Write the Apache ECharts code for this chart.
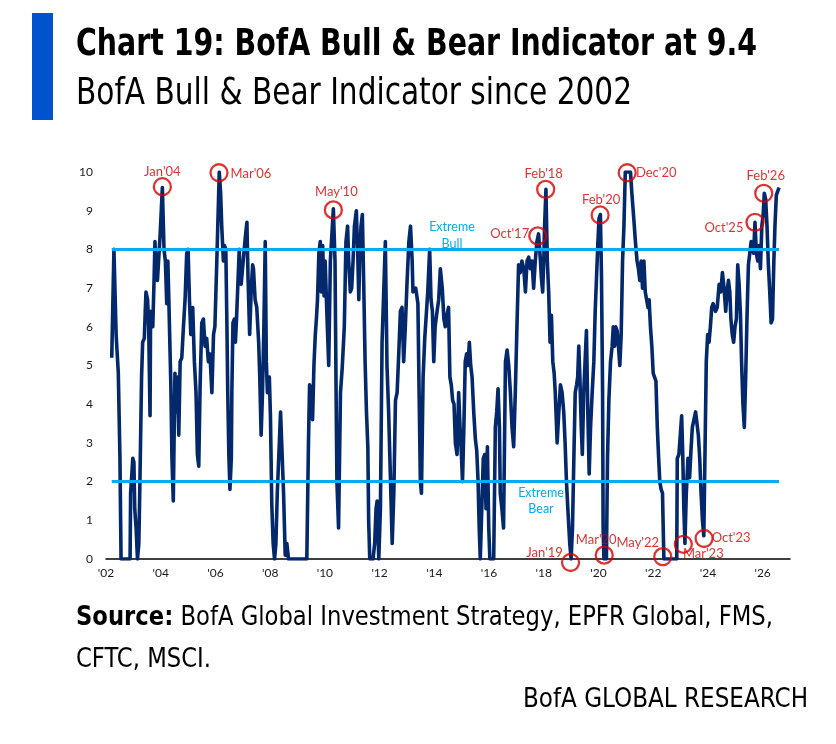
<!DOCTYPE html>
<html>
<head>
<meta charset="utf-8">
<script src="https://cdn.jsdelivr.net/npm/echarts@6/dist/echarts.min.js"></script>
<style>
html,body{margin:0;padding:0;background:#fff;}
#c{width:836px;height:744px;}
</style>
</head>
<body>
<div id="c"></div>
<script>
// ---------------- DATA ----------------
const dates = [
2002.21,2002.29,2002.33,2002.37,2002.45,2002.51,2002.55,2002.88,2002.90,2002.98,
2003.02,2003.05,2003.10,2003.15,2003.20,2003.24,2003.30,2003.34,2003.40,2003.46,
2003.52,2003.56,2003.61,2003.63,2003.71,2003.76,2003.79,2003.83,2003.88,2003.93,
2003.98,2004.02,2004.06,2004.12,2004.17,2004.22,2004.26,2004.30,2004.37,2004.41,
2004.46,2004.52,2004.56,2004.61,2004.66,2004.71,2004.77,2004.83,2004.89,2004.95,
2005.00,2005.05,2005.10,2005.17,2005.23,2005.29,2005.34,2005.39,2005.44,2005.50,
2005.56,2005.62,2005.68,2005.74,2005.80,2005.87,2005.93,2005.98,2006.05,2006.14,
2006.19,2006.23,2006.29,2006.33,2006.38,2006.42,2006.45,2006.49,2006.53,2006.58,
2006.60,2006.64,2006.69,2006.73,2006.77,2006.82,2006.87,2006.90,2006.94,2006.99,
2007.04,2007.09,2007.15,2007.19,2007.25,2007.31,2007.36,2007.39,2007.45,2007.51,
2007.58,2007.62,2007.67,2007.72,2007.77,2007.82,2007.86,2007.90,2007.97,2008.01,
2008.06,2008.11,2008.16,2008.21,2008.26,2008.33,2008.38,2008.43,2008.49,2008.55,
2008.61,2008.67,2009.34,2009.40,2009.44,2009.50,2009.55,2009.60,2009.65,2009.69,
2009.73,2009.78,2009.83,2009.87,2009.92,2009.97,2010.01,2010.08,2010.14,2010.20,
2010.31,2010.37,2010.41,2010.44,2010.50,2010.57,2010.63,2010.66,2010.71,2010.77,
2010.83,2010.87,2010.93,2010.98,2011.03,2011.08,2011.15,2011.20,2011.24,2011.27,
2011.32,2011.37,2011.42,2011.47,2011.52,2011.57,2011.60,2011.64,2011.76,2011.82,
2011.87,2011.91,2011.97,2012.03,2012.09,2012.15,2012.21,2012.27,2012.33,2012.40,
2012.46,2012.52,2012.58,2012.64,2012.70,2012.76,2012.82,2012.88,2012.94,2013.00,
2013.07,2013.13,2013.19,2013.22,2013.27,2013.32,2013.40,2013.44,2013.49,2013.53,
2013.59,2013.65,2013.71,2013.76,2013.83,2013.88,2013.93,2013.98,2014.03,2014.10,
2014.16,2014.22,2014.29,2014.35,2014.40,2014.46,2014.52,2014.57,2014.62,2014.67,
2014.72,2014.77,2014.83,2014.89,2014.94,2014.99,2015.03,2015.08,2015.13,2015.18,
2015.23,2015.28,2015.33,2015.38,2015.44,2015.50,2015.55,2015.60,2015.64,2015.68,
2015.74,2015.79,2015.84,2015.89,2015.94,2015.99,2016.03,2016.17,2016.23,2016.28,
2016.33,2016.38,2016.41,2016.47,2016.53,2016.60,2016.66,2016.72,2016.78,2016.84,
2016.90,2016.96,2017.02,2017.08,2017.14,2017.20,2017.27,2017.33,2017.39,2017.45,
2017.51,2017.57,2017.63,2017.69,2017.75,2017.81,2017.88,2017.91,2017.96,2018.00,
2018.03,2018.08,2018.13,2018.18,2018.23,2018.28,2018.33,2018.38,2018.42,2018.49,
2018.55,2018.61,2018.67,2018.73,2018.78,2018.83,2018.88,2018.95,2019.00,2019.05,
2019.10,2019.15,2019.20,2019.24,2019.28,2019.32,2019.37,2019.41,2019.46,2019.51,
2019.56,2019.61,2019.66,2019.71,2019.77,2019.83,2019.88,2019.93,2019.98,2020.02,
2020.07,2020.11,2020.15,2020.17,2020.20,2020.29,2020.33,2020.38,2020.44,2020.50,
2020.54,2020.59,2020.63,2020.68,2020.73,2020.78,2020.83,2020.88,2020.93,2020.98,
2021.17,2021.22,2021.29,2021.35,2021.41,2021.46,2021.51,2021.56,2021.61,2021.66,
2021.71,2021.76,2021.81,2021.85,2021.90,2021.95,2022.00,2022.05,2022.10,2022.15,
2022.20,2022.24,2022.29,2022.34,2022.39,2022.86,2022.88,2022.94,2022.99,2023.04,
2023.08,2023.12,2023.16,2023.21,2023.27,2023.33,2023.38,2023.43,2023.49,2023.55,
2023.60,2023.65,2023.70,2023.75,2023.80,2023.85,2023.89,2023.94,2023.99,2024.04,
2024.09,2024.14,2024.19,2024.23,2024.28,2024.34,2024.41,2024.47,2024.53,2024.59,
2024.65,2024.70,2024.75,2024.80,2024.84,2024.89,2024.94,2024.99,2025.04,2025.09,
2025.14,2025.19,2025.23,2025.28,2025.33,2025.38,2025.43,2025.48,2025.53,2025.58,
2025.62,2025.67,2025.72,2025.77,2025.82,2025.87,2025.92,2025.97,2026.02,2026.06,
2026.11,2026.16,2026.21,2026.26,2026.31,2026.36,2026.41,2026.45,2026.50,2026.55,
2026.60
];
const values = [
5.2,8.0,6.9,5.8,4.8,2.6,0,0,1.7,2.6,
2.5,1.3,0.8,0,0.4,2.0,4.7,5.6,5.7,6.9,
6.7,6.0,3.7,6.4,6.0,7.3,8.2,7.4,7.2,7.8,
8.4,9.0,9.6,8.0,7.7,6.6,7.7,6.6,4.5,2.6,
1.5,4.8,3.8,4.7,3.2,5.1,5.2,6.0,6.7,7.9,
8.0,6.7,5.8,6.5,5.1,4.3,2.7,2.4,4.5,6.1,
6.2,5.5,5.7,5.1,5.3,4.3,5.8,6.0,7.7,10.0,
9.45,8.6,7.7,8.1,8.0,6.0,4.3,2.7,1.8,2.6,
4.3,6.1,6.2,5.6,6.2,7.1,8.0,7.3,7.1,7.5,
7.9,8.3,8.7,7.3,5.8,7.0,7.6,7.5,6.7,6.5,
5.6,4.7,3.2,4.3,6.0,8.2,5.1,4.3,4.7,3.7,
1.4,0.4,0,0.4,1.7,2.9,3.8,3.8,1.7,0.1,
0.4,0,0,3.0,4.5,4.4,3.6,5.0,5.8,6.2,
6.7,7.9,8.2,6.9,8.1,6.8,7.7,6.2,5.0,7.7,
9.05,7.7,4.3,2.0,0.8,4.3,4.9,5.3,6.0,8.2,
8.6,7.7,6.9,7.0,7.7,8.6,9.0,7.9,6.7,7.7,
8.6,8.9,7.1,5.1,3.8,2.9,1.0,0,0,0.4,
1.3,1.5,0,1.3,5.6,6.9,8.2,5.0,3.8,2.0,
0.4,1.7,4.1,4.3,5.3,6.4,6.5,5.1,6.0,7.1,
8.2,8.6,7.7,6.9,6.9,7.0,6.6,4.5,2.0,1.7,
4.7,5.7,5.7,6.9,8.0,6.7,6.4,5.1,6.0,6.4,
6.7,7.5,7.0,6.2,6.0,6.3,6.5,4.7,4.5,4.1,
4.0,3.0,2.7,4.3,3.4,2.7,2.0,3.4,5.1,5.3,
5.0,5.6,5.0,4.7,3.8,3.1,2.8,2.0,0.8,0,
0,2.6,2.7,1.3,2.9,0.8,0,0,3.4,3.8,
4.4,3.4,1.7,1.3,0.8,5.1,5.4,5.0,4.3,3.4,
2.9,4.3,6.0,7.6,7.4,7.7,7.5,6.9,7.7,7.8,
7.5,7.7,7.0,7.7,8.2,8.4,7.7,7.3,6.9,7.7,
8.6,9.55,7.7,6.9,5.6,6.3,5.1,4.8,4.3,3.0,
3.8,4.5,4.3,3.8,3.0,2.0,1.3,0.4,0,0.8,
2.6,4.3,4.5,4.7,5.5,4.7,3.4,2.7,4.3,5.1,
5.9,3.8,2.2,3.4,4.3,5.1,6.4,7.3,8.2,8.8,
8.9,7.3,4.3,0.8,0,0,2.6,4.1,5.1,5.5,
6.0,5.5,6.0,5.9,5.5,5.0,5.8,7.7,8.6,10.0,
10.0,9.45,8.8,8.2,7.7,7.5,7.2,7.7,7.0,7.7,
6.9,6.7,6.5,6.7,6.0,5.5,4.8,4.7,4.6,3.4,
2.6,2.0,1.8,1.7,0,0,2.6,2.7,3.2,3.7,
2.7,1.3,0.4,1.7,2.6,2.1,2.8,3.4,3.6,3.8,
3.8,3.2,2.6,1.7,1.0,0.6,2.6,5.1,5.8,5.6,
6.0,6.5,6.6,6.5,6.4,6.5,7.1,6.9,7.4,7.0,
6.4,6.9,7.2,6.9,6.2,5.8,5.6,6.0,6.2,7.6,
7.1,6.3,5.1,4.0,3.4,4.7,6.3,7.6,7.9,8.2,
8.2,7.9,8.7,7.9,7.7,8.1,7.5,8.6,8.9,9.45,
9.3,8.6,7.6,6.9,6.1,6.2,7.7,8.6,9.4,9.5,
9.6
];
// Extreme Bull / Extreme Bear thresholds
const bandLevels = [8, 2];
// x-axis ticks
const tickYears = [2002,2004,2006,2008,2010,2012,2014,2016,2018,2020,2022,2024,2026];
const tickLabels = ["'02","'04","'06","'08","'10","'12","'14","'16","'18","'20","'22","'24","'26"];
// circled annotations
const noteNames  = ["Jan'04","Mar'06","May'10","Oct'17","Feb'18","Feb'20","Dec'20","Oct'25","Feb'26","Jan'19","Mar'20","May'22","Mar'23","Oct'23"];
const noteDates  = [2004.06,2006.13,2010.31,2017.78,2018.07,2020.06,2021.05,2025.72,2026.04,2018.98,2020.21,2022.35,2023.10,2023.86];
const noteValues = [9.62,9.98,9.02,8.35,9.55,8.89,9.98,8.70,9.45,-0.09,0.10,0.06,0.38,0.53];

// ---------------- STYLE ----------------
const NAVY = '#03296C';
const SKY = '#00AEEF';
const RED = '#D60000';
const BARBLUE = '#0053CC';
const FAM = "'Liberation Sans Narrow','DejaVu Sans Condensed','Open Sans',sans-serif";
const LBL = "Lato, 'Open Sans', sans-serif";
// label offsets (pixels) relative to each circle
const labelOffset = {
  "Jan'04":[0,-15], "Mar'06":[32,1], "May'10":[3,-18], "Oct'17":[-28,-2],
  "Feb'18":[-2,-16], "Feb'20":[1,-15], "Dec'20":[29,0], "Oct'25":[-31,6],
  "Feb'26":[2,-17], "Jan'19":[-26,-10], "Mar'20":[-8,-15], "May'22":[-25,-14],
  "Mar'23":[20,10], "Oct'23":[27,-1]
};

const mctx = document.createElement('canvas').getContext('2d');
function textW(str, weight, size){ mctx.font = weight + ' ' + size + 'px ' + FAM; return mctx.measureText(str).width; }

const titleTxt = 'Chart 19: BofA Bull & Bear Indicator at 9.4';
const subTxt = 'BofA Bull & Bear Indicator since 2002';
const srcBold = 'Source:';
const srcRest = ' BofA Global Investment Strategy, EPFR Global, FMS,';
const srcLine2 = 'CFTC, MSCI.';
const brandTxt = 'BofA GLOBAL RESEARCH';

const kTitle = 681 / textW(titleTxt, 'bold', 38);
const kSub = 556 / textW(subTxt, 'normal', 38);
const wSB = textW(srcBold, 'bold', 27), wSR = textW(srcRest, 'normal', 27);
const kSrc = 697 / (wSB + wSR);
const kBrand = 285 / textW(brandTxt, 'normal', 27);

function txt(x, y, k, text, size, weight, align, color){
  return {type:'text', x:x, y:y, scaleX:k, scaleY:1, silent:true,
    style:{text:text, fontFamily:FAM, fontSize:size, fontWeight:weight, fill:color||'#000',
      align:align||'left', textAlign:align||'left', verticalAlign:'middle', textVerticalAlign:'middle'}};
}

const chart = echarts.init(document.getElementById('c'), null, {renderer:'canvas'});
const option = {
  animation:false,
  backgroundColor:'#fff',
  grid:{left:106, right:46, top:172, bottom:185},
  xAxis:{type:'value', min:2002, max:2027, interval:2,
    axisLine:{show:true, onZero:false, lineStyle:{color:'#000', width:1.5}},
    axisTick:{show:false}, splitLine:{show:false},
    axisLabel:{margin:8, color:'#1a1a1a', fontSize:12, fontFamily:LBL,
      formatter:function(v){ const i = tickYears.indexOf(Math.round(v*1000)/1000); return i < 0 ? '' : tickLabels[i]; }}},
  yAxis:{type:'value', min:0, max:10, interval:1,
    axisLine:{show:false}, axisTick:{show:false}, splitLine:{show:false},
    axisLabel:{margin:13, color:'#1a1a1a', fontSize:12, fontFamily:LBL}},
  series:[
    {type:'line', name:'BofA Bull & Bear Indicator', z:2, showSymbol:false, symbol:'none',
      data:dates.map((d,i)=>[d, values[i]]),
      lineStyle:{color:NAVY, width:3.6, join:'round'}, itemStyle:{color:NAVY}},
  ].concat(bandLevels.map(l=>({type:'line', z:3, showSymbol:false, symbol:'none', silent:true,
      data:[[dates[0], l],[dates[dates.length-1], l]],
      lineStyle:{color:SKY, width:3}}))).concat([
    {type:'scatter', z:5, clip:false, symbol:'circle', symbolSize:17, silent:true,
      itemStyle:{color:'rgba(255,255,255,0)', borderColor:RED, borderWidth:2.3},
      data:noteNames.map((n,i)=>({name:n, value:[noteDates[i], noteValues[i]],
        label:{show:true, position:'inside', offset:labelOffset[n], formatter:n,
          color:RED, fontSize:13, fontFamily:LBL}}))}
  ]),
  graphic:[
    {type:'rect', shape:{x:32, y:13, width:21, height:107}, style:{fill:BARBLUE}, silent:true},
    txt(76, 45, kTitle, titleTxt, 38, 'bold'),
    txt(76, 94, kSub, subTxt, 38, 'normal'),
    txt(76, 618, kSrc, srcBold, 27, 'bold'),
    txt(76 + kSrc*wSB, 618, kSrc, srcRest, 27, 'normal'),
    txt(76, 660, kSrc, srcLine2, 27, 'normal'),
    txt(808, 700, kBrand, brandTxt, 27, 'normal', 'right'),
    {type:'text', x:452, y:235, silent:true,
      style:{text:'Extreme\nBull', fontFamily:LBL, fontSize:12.5, lineHeight:17, fill:SKY,
        align:'center', textAlign:'center', verticalAlign:'middle', textVerticalAlign:'middle'}},
    {type:'text', x:541, y:501, silent:true,
      style:{text:'Extreme\nBear', fontFamily:LBL, fontSize:12.5, lineHeight:16, fill:SKY,
        align:'center', textAlign:'center', verticalAlign:'middle', textVerticalAlign:'middle'}}
  ]
};
chart.setOption(option);
</script>
</body>
</html>
